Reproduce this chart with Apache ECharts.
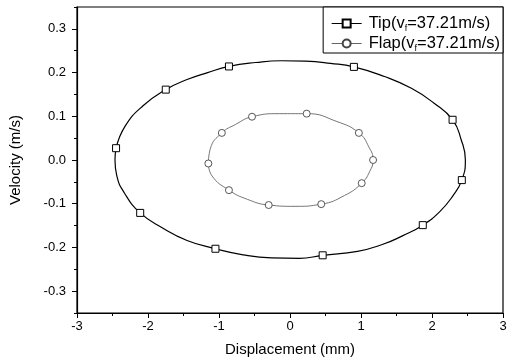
<!DOCTYPE html>
<html><head><meta charset="utf-8">
<script src="https://cdn.jsdelivr.net/npm/echarts@6/dist/echarts.min.js"></script>
<style>html,body{margin:0;padding:0;background:#fff}#c{width:517px;height:358px}</style>
</head><body><div id="c"></div>
<script>
// Tip orbit: points (x mm, y m/s); markers flagged
const tipX = [-2.45,-2.32,-2.07,-1.75,-1.45,-1.16,-0.86,-0.48,-0.13,0.22,0.57,0.90,1.33,1.71,2.02,2.29,2.41,2.47,2.42,2.29,2.11,1.87,1.59,1.29,0.95,0.46,0.13,-0.26,-0.66,-1.05,-1.45,-1.80,-2.11,-2.33,-2.44,-2.465,-2.45];
const tipY = [0.027,0.078,0.124,0.161,0.184,0.200,0.214,0.223,0.227,0.226,0.221,0.213,0.191,0.164,0.131,0.092,0.047,0.000,-0.046,-0.083,-0.118,-0.149,-0.173,-0.194,-0.209,-0.218,-0.225,-0.224,-0.217,-0.203,-0.184,-0.155,-0.121,-0.076,-0.036,0.000,0.027];
const tipMarkers = [0,3,6,11,15,18,21,25,29,32];
// Flap orbit
const flapX = [-1.15,-1.12,-0.96,-0.77,-0.535,-0.15,0.235,0.66,0.97,1.11,1.17,1.12,1.01,0.77,0.44,0.07,-0.30,-0.60,-0.86,-1.10,-1.15];
const flapY = [-0.008,0.027,0.062,0.081,0.099,0.106,0.106,0.088,0.062,0.030,0.000,-0.027,-0.053,-0.081,-0.101,-0.106,-0.103,-0.090,-0.069,-0.036,-0.008];
const flapMarkers = [0,2,4,6,8,10,12,14,16,18];
const xTicks = [-3,-2,-1,0,1,2,3];
const yTicks = [-0.3,-0.2,-0.1,0.0,0.1,0.2,0.3];
const yMinorTicks = [-0.35,-0.25,-0.15,-0.05,0.05,0.15,0.25,0.35];
const tipName = 'Tip(v{s|f}=37.21m/s)';
const flapName = 'Flap(v{s|f}=37.21m/s)';

function build(xs, ys, marks){
  return xs.map((x,i)=>{
    const it = {value:[x, ys[i]]};
    if (marks.indexOf(i) < 0) it.symbol = 'none';
    return it;
  });
}
const font = 'Liberation Sans, Arial, sans-serif';
const chart = echarts.init(document.getElementById('c'), null, {renderer:'canvas'});
chart.setOption({
  animation:false,
  backgroundColor:'#fff',
  textStyle:{fontFamily:font, color:'#000'},
  grid:{left:77, right:14, top:7, bottom:45, show:true, borderColor:'#000', borderWidth:1.2,
    backgroundColor:'transparent', containLabel:false, outerBoundsMode:'none'},
  legend:{
    top:7, right:14, orient:'vertical', itemGap:1, itemWidth:30, itemHeight:10,
    borderColor:'#000', borderWidth:1, borderRadius:0, padding:[7,3,0,8],
    backgroundColor:'#fff',
    lineStyle:{width:1},
    data:[tipName, flapName],
    textStyle:{fontFamily:font, fontSize:16.5, lineHeight:19, color:'#000', padding:[0,0,0,2],
      rich:{s:{fontSize:9, lineHeight:19, verticalAlign:'bottom', padding:[9,0,0,0], fontFamily:font, color:'#000'}}}
  },
  xAxis:{
    type:'value', min:-3, max:3, interval:1,
    name:'Displacement (mm)', nameLocation:'middle', nameGap:29,
    nameTextStyle:{fontSize:15, fontFamily:font, color:'#000'},
    axisLine:{onZero:false, lineStyle:{color:'#000', width:1.2}},
    axisTick:{show:true, length:5, inside:false, lineStyle:{color:'#000'}},
    minorTick:{show:true, splitNumber:2, length:3, lineStyle:{color:'#000'}},
    axisLabel:{fontSize:13, color:'#000', fontFamily:font, margin:7,
      customValues:xTicks},
    splitLine:{show:false}
  },
  yAxis:[{
    type:'value', min:-0.35, max:0.35,
    name:'Velocity (m/s)', nameLocation:'middle', nameGap:54,
    nameTextStyle:{fontSize:15, fontFamily:font, color:'#000'},
    axisLine:{onZero:false, lineStyle:{color:'#000', width:1.2}},
    axisTick:{show:true, length:5, customValues:yTicks, lineStyle:{color:'#000'}},
    axisLabel:{fontSize:13, color:'#000', fontFamily:font, margin:11,
      customValues:yTicks, formatter:v=>v.toFixed(1)},
    splitLine:{show:false}
  },{
    type:'value', min:-0.35, max:0.35, position:'left',
    axisLine:{show:false, onZero:false},
    axisTick:{show:true, length:3, customValues:yMinorTicks, lineStyle:{color:'#000'}},
    axisLabel:{show:false},
    splitLine:{show:false}
  }],
  series:[{
    name:tipName, type:'line', data:build(tipX, tipY, tipMarkers), smooth:0.5,
    symbol:'rect', symbolSize:7, showAllSymbol:true,
    lineStyle:{color:'#000', width:1.2},
    itemStyle:{color:'#fff', borderColor:'#000', borderWidth:1}
  },{
    name:flapName, type:'line', data:build(flapX, flapY, flapMarkers), smooth:0.5,
    symbol:'circle', symbolSize:7, showAllSymbol:true,
    lineStyle:{color:'#666', width:0.9},
    itemStyle:{color:'#fff', borderColor:'#444', borderWidth:0.9}
  }]
});
</script></body></html>
